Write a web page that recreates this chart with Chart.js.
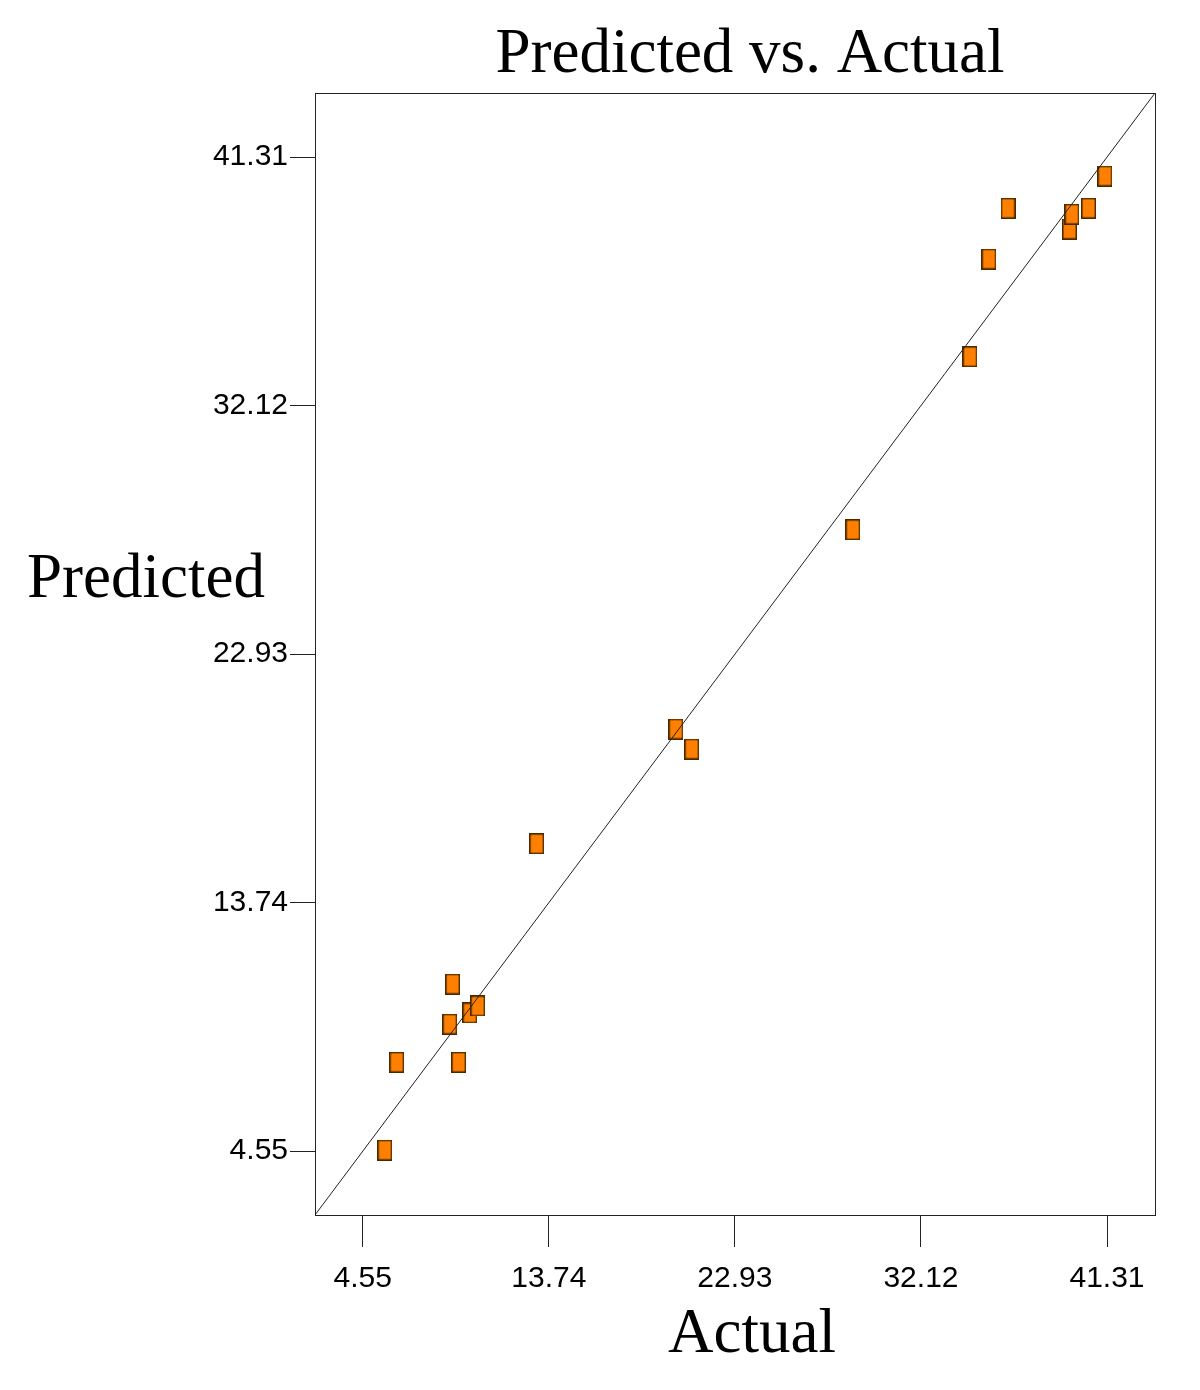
<!DOCTYPE html>
<html>
<head>
<meta charset="utf-8">
<script src="https://cdn.jsdelivr.net/npm/chart.js@4.4.1/dist/chart.umd.min.js"></script>
<style>
  html, body { margin: 0; padding: 0; background: #fff; }
  #pvaChart { display: block; }
</style>
</head>
<body>
<canvas id="pvaChart" width="1200" height="1390"></canvas>
<script>
// values
const actualValues = [5.64, 6.23, 8.85, 8.99, 9.29, 9.84, 10.23, 13.14, 20.02, 20.80,
                      28.76, 34.54, 35.48, 36.42, 39.46, 39.58, 40.40, 41.21];
const predictedValues = [4.59, 7.84, 9.25, 10.73, 7.84, 9.66, 9.92, 15.92, 20.16, 19.42,
                         27.53, 33.93, 37.54, 39.42, 38.65, 39.20, 39.42, 40.61];
const tickValues = [4.55, 13.74, 22.93, 32.12, 41.31];
const axisRange = [2.19, 43.68];

const chartTitle = 'Predicted vs. Actual';
const xTitle = 'Actual';
const yTitle = 'Predicted';

// rectangular marker (taller than wide)
function makeMarker() {
    const c = document.createElement('canvas');
    c.width = 15;
    c.height = 21;
    const g = c.getContext('2d');
    g.fillStyle = '#ff8000';
    g.fillRect(0, 0, 15, 21);
    g.strokeStyle = '#4a2800';
    g.lineWidth = 1.5;
    g.strokeRect(0.75, 0.75, 13.5, 19.5);
    return c;
}

const textPlugin = {
    id: 'textPlugin',
    afterDraw(chart) {
        const ctx = chart.ctx;
        const a = chart.chartArea;
        ctx.save();
        ctx.strokeStyle = '#222';
        ctx.lineWidth = 1;
        ctx.strokeRect(a.left + 0.5, a.top + 0.5, a.right - a.left, a.bottom - a.top);
        ctx.fillStyle = '#000';
        ctx.font = '63px "Liberation Serif", "Times New Roman", serif';
        ctx.textAlign = 'center';
        ctx.textBaseline = 'alphabetic';
        ctx.fillText(chartTitle, 750, 72);
        ctx.fillText(xTitle, 752, 1352);
        ctx.fillText(yTitle, 146, 597);
        ctx.restore();
    }
};

const points = actualValues.map((x, i) => ({ x: x, y: predictedValues[i] }));
const diagonal = axisRange.map(v => ({ x: v, y: v }));

const ctx = document.getElementById('pvaChart').getContext('2d');
new Chart(ctx, {
    type: 'scatter',
    data: {
        datasets: [
            {
                type: 'line',
                data: diagonal,
                borderColor: '#222',
                borderWidth: 1,
                pointRadius: 0,
                fill: false,
                order: 0
            },
            {
                data: points,
                pointStyle: makeMarker(),
                pointRadius: 10,
                order: 1
            }
        ]
    },
    plugins: [textPlugin],
    options: {
        responsive: false,
        animation: false,
        devicePixelRatio: 1,
        layout: { padding: { top: 93, right: 45, left: 0, bottom: 0 } },
        scales: {
            x: {
                type: 'linear',
                min: axisRange[0],
                max: axisRange[1],
                afterBuildTicks: scale => { scale.ticks = tickValues.map(v => ({ value: v })); },
                afterFit: scale => { scale.height = 175; },
                grid: {
                    drawOnChartArea: false,
                    drawTicks: true,
                    tickLength: 32,
                    color: '#222'
                },
                border: { display: false },
                ticks: {
                    padding: 14,
                    color: '#000',
                    maxRotation: 0,
                    font: { family: '"Liberation Sans", Arial, sans-serif', size: 30 },
                    callback: v => v.toFixed(2)
                }
            },
            y: {
                type: 'linear',
                min: axisRange[0],
                max: axisRange[1],
                afterBuildTicks: scale => { scale.ticks = tickValues.map(v => ({ value: v })); },
                afterFit: scale => { scale.width = 315; },
                grid: {
                    drawOnChartArea: false,
                    drawTicks: true,
                    tickLength: 25,
                    color: '#222'
                },
                border: { display: false },
                ticks: {
                    padding: 2,
                    color: '#000',
                    font: { family: '"Liberation Sans", Arial, sans-serif', size: 30 },
                    callback: v => v.toFixed(2)
                }
            }
        },
        plugins: {
            legend: { display: false },
            tooltip: { enabled: false },
            title: { display: false }
        }
    }
});
</script>
</body>
</html>
